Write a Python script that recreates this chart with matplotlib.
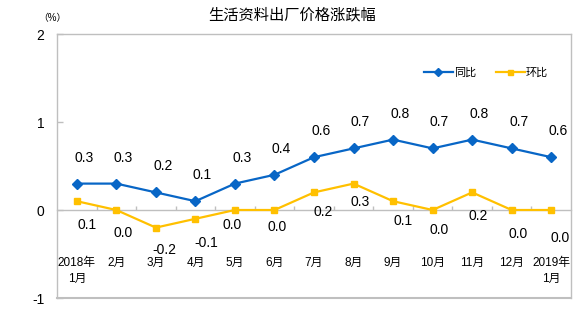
import matplotlib
matplotlib.use("Agg")
import matplotlib.pyplot as plt

plt.rcParams['font.family'] = ['Liberation Sans', 'Noto Sans CJK SC', 'DejaVu Sans']

categories = ["2018年\n1月", "2月", "3月", "4月", "5月", "6月", "7月", "8月",
              "9月", "10月", "11月", "12月", "2019年\n1月"]
yoy = [0.3, 0.3, 0.2, 0.1, 0.3, 0.4, 0.6, 0.7, 0.8, 0.7, 0.8, 0.7, 0.6]
mom = [0.1, 0.0, -0.2, -0.1, 0.0, 0.0, 0.2, 0.3, 0.1, 0.0, 0.2, 0.0, 0.0]
series_names = ["同比", "环比"]
yticks = [-1, 0, 1, 2]

# label offsets in pixels (style only)
mom_label_dx = [10, 7, 9, 11, -3, 3, 9, 7, 10, 7, 6, 6, 9]
mom_label_dy = [-24, -23, -22, -24, -15, -17, -20, -18, -20, -20, -24, -24, -28]

blue = "#0866C6"
yellow = "#FFC000"
gray = "#BFBFBF"

fig = plt.figure(figsize=(5.84, 3.25), dpi=100)
ax = fig.add_axes([57/584, 1-298/325, (571-57)/584, (298-34)/325])

x = list(range(len(categories)))
ax.plot(x, yoy, color=blue, lw=1.6, marker='D', ms=5, label=series_names[0], zorder=3)
ax.plot(x, mom, color=yellow, lw=1.6, marker='s', ms=4.5, label=series_names[1], zorder=3)

ax.set_xlim(-0.5, len(categories) - 0.5)
ax.set_ylim(-1, 2)

for s in ['top', 'right', 'left']:
    ax.spines[s].set_color(gray)
    ax.spines[s].set_linewidth(1)
ax.spines['bottom'].set_position(('data', 0))
ax.spines['bottom'].set_color(gray)
ax.spines['bottom'].set_linewidth(1)
ax.axhline(-1, color=gray, lw=1.5, clip_on=False, zorder=1)

ax.set_xticks([i + 0.5 for i in range(len(categories) - 1)])
ax.set_xticklabels([])
ax.tick_params(axis='x', direction='in', length=3, color=gray, width=1)
ax.set_yticks(yticks)
ax.set_yticklabels([str(v) for v in yticks], fontsize=10)
ax.tick_params(axis='y', direction='in', length=4, color=gray, width=1, pad=9)

for i, v in enumerate(yoy):
    ax.annotate(f"{v:.1f}", (i, v), xytext=(7, 26), textcoords='offset pixels',
                ha='center', va='center', fontsize=10)
for i, v in enumerate(mom):
    ax.annotate(f"{v:.1f}", (i, v), xytext=(mom_label_dx[i], mom_label_dy[i]),
                textcoords='offset pixels', ha='center', va='center', fontsize=10)

for i, c in enumerate(categories):
    ax.text(i, -0.53, c, ha='center', va='top', fontsize=8.5, linespacing=1.5)

fig.text(292/584, 1-15/325, "生活资料出厂价格涨跌幅", ha='center', va='center', fontsize=11)
fig.text(52/584, 1-18/325, "（%）", ha='center', va='center', fontsize=7)

leg = ax.legend(loc='upper right', bbox_to_anchor=(0.975, 0.91), ncol=2, frameon=False,
                fontsize=8, handlelength=2.6, handletextpad=0.1, columnspacing=1.8,
                markerscale=0.8)

fig.savefig("out.png", dpi=100)
